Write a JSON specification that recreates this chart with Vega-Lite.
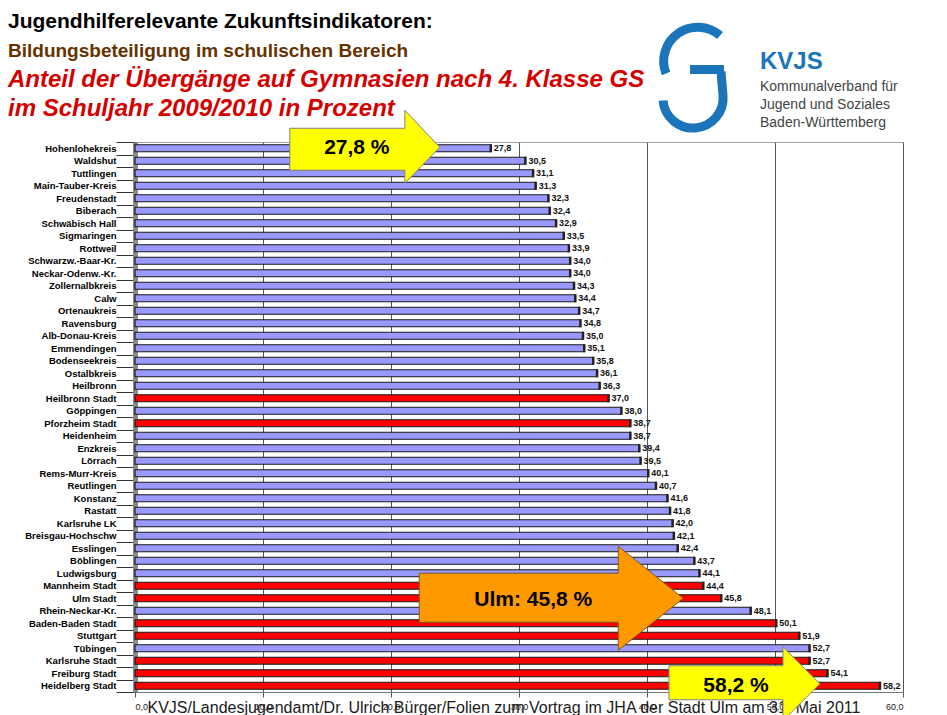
{
  "$schema": "https://vega.github.io/schema/vega-lite/v6.json",
  "background": "white",
  "padding": {"left": 8, "top": 7, "right": 0, "bottom": 0},
  "config": {
    "font": "Liberation Sans",
    "view": {"stroke": null},
    "locale": {"number": {"decimal": ",", "thousands": ".", "grouping": [3], "currency": ["", " €"]}}
  },
  "datasets": {
    "kopf": [
      {"bereich": "Titel", "zeile": "1", "rolle": "ueberschrift", "text": "Jugendhilferelevante Zukunftsindikatoren:"},
      {"bereich": "Titel", "zeile": "2", "rolle": "thema", "text": "Bildungsbeteiligung im schulischen Bereich"},
      {"bereich": "Titel", "zeile": "3", "rolle": "indikator", "text": "Anteil der Übergänge auf Gymnasien nach 4. Klasse GS"},
      {"bereich": "Titel", "zeile": "4", "rolle": "indikator", "text": "im Schuljahr 2009/2010 in Prozent"},
      {"bereich": "Logo", "zeile": "2", "rolle": "marke", "text": "KVJS"},
      {"bereich": "Logo", "zeile": "3", "rolle": "zusatz", "text": "Kommunalverband für\nJugend und Soziales\nBaden-Württemberg"},
      {"bereich": "Logo", "zeile": "3", "rolle": "emblem", "text": ""}
    ],
    "werte": [
      {"kreis": "Hohenlohekreis", "anteil": 27.8, "art": "Landkreis"},
      {"kreis": "Waldshut", "anteil": 30.5, "art": "Landkreis"},
      {"kreis": "Tuttlingen", "anteil": 31.1, "art": "Landkreis"},
      {"kreis": "Main-Tauber-Kreis", "anteil": 31.3, "art": "Landkreis"},
      {"kreis": "Freudenstadt", "anteil": 32.3, "art": "Landkreis"},
      {"kreis": "Biberach", "anteil": 32.4, "art": "Landkreis"},
      {"kreis": "Schwäbisch Hall", "anteil": 32.9, "art": "Landkreis"},
      {"kreis": "Sigmaringen", "anteil": 33.5, "art": "Landkreis"},
      {"kreis": "Rottweil", "anteil": 33.9, "art": "Landkreis"},
      {"kreis": "Schwarzw.-Baar-Kr.", "anteil": 34.0, "art": "Landkreis"},
      {"kreis": "Neckar-Odenw.-Kr.", "anteil": 34.0, "art": "Landkreis"},
      {"kreis": "Zollernalbkreis", "anteil": 34.3, "art": "Landkreis"},
      {"kreis": "Calw", "anteil": 34.4, "art": "Landkreis"},
      {"kreis": "Ortenaukreis", "anteil": 34.7, "art": "Landkreis"},
      {"kreis": "Ravensburg", "anteil": 34.8, "art": "Landkreis"},
      {"kreis": "Alb-Donau-Kreis", "anteil": 35.0, "art": "Landkreis"},
      {"kreis": "Emmendingen", "anteil": 35.1, "art": "Landkreis"},
      {"kreis": "Bodenseekreis", "anteil": 35.8, "art": "Landkreis"},
      {"kreis": "Ostalbkreis", "anteil": 36.1, "art": "Landkreis"},
      {"kreis": "Heilbronn", "anteil": 36.3, "art": "Landkreis"},
      {"kreis": "Heilbronn Stadt", "anteil": 37.0, "art": "Stadtkreis"},
      {"kreis": "Göppingen", "anteil": 38.0, "art": "Landkreis"},
      {"kreis": "Pforzheim Stadt", "anteil": 38.7, "art": "Stadtkreis"},
      {"kreis": "Heidenheim", "anteil": 38.7, "art": "Landkreis"},
      {"kreis": "Enzkreis", "anteil": 39.4, "art": "Landkreis"},
      {"kreis": "Lörrach", "anteil": 39.5, "art": "Landkreis"},
      {"kreis": "Rems-Murr-Kreis", "anteil": 40.1, "art": "Landkreis"},
      {"kreis": "Reutlingen", "anteil": 40.7, "art": "Landkreis"},
      {"kreis": "Konstanz", "anteil": 41.6, "art": "Landkreis"},
      {"kreis": "Rastatt", "anteil": 41.8, "art": "Landkreis"},
      {"kreis": "Karlsruhe LK", "anteil": 42.0, "art": "Landkreis"},
      {"kreis": "Breisgau-Hochschw", "anteil": 42.1, "art": "Landkreis"},
      {"kreis": "Esslingen", "anteil": 42.4, "art": "Landkreis"},
      {"kreis": "Böblingen", "anteil": 43.7, "art": "Landkreis"},
      {"kreis": "Ludwigsburg", "anteil": 44.1, "art": "Landkreis"},
      {"kreis": "Mannheim Stadt", "anteil": 44.4, "art": "Stadtkreis"},
      {"kreis": "Ulm Stadt", "anteil": 45.8, "art": "Stadtkreis"},
      {"kreis": "Rhein-Neckar-Kr.", "anteil": 48.1, "art": "Landkreis"},
      {"kreis": "Baden-Baden Stadt", "anteil": 50.1, "art": "Stadtkreis"},
      {"kreis": "Stuttgart", "anteil": 51.9, "art": "Stadtkreis"},
      {"kreis": "Tübingen", "anteil": 52.7, "art": "Landkreis"},
      {"kreis": "Karlsruhe Stadt", "anteil": 52.7, "art": "Stadtkreis"},
      {"kreis": "Freiburg Stadt", "anteil": 54.1, "art": "Stadtkreis"},
      {"kreis": "Heidelberg Stadt", "anteil": 58.2, "art": "Stadtkreis"}
    ],
    "hinweise": [
      {"kreis": "Hohenlohekreis", "anteil": 27.8, "label": "27,8 %"},
      {"kreis": "Ulm Stadt", "anteil": 45.8, "label": "Ulm: 45,8 %"},
      {"kreis": "Heidelberg Stadt", "anteil": 58.2, "label": "58,2 %"}
    ]
  },
  "bounds": "flush",
  "spacing": 19,
  "vconcat": [
    {
      "width": 768,
      "height": 116,
      "data": {"name": "kopf"},
      "encoding": {
        "x": {"field": "bereich", "type": "nominal", "axis": null, "bandPosition": 0,
              "scale": {"type": "band", "domain": ["Titel", "Logo"], "paddingInner": 0.7712, "paddingOuter": 0}},
        "y": {"field": "zeile", "type": "nominal", "axis": null,
              "scale": {"type": "band", "domain": ["1", "2", "3", "4"], "paddingInner": 0, "paddingOuter": 0}}
      },
      "layer": [
        {
          "transform": [{"filter": "datum.rolle === 'ueberschrift'"}],
          "mark": {"type": "text", "align": "left", "baseline": "middle", "dx": -127, "fontSize": 21, "fontWeight": "bold", "color": "#000000"},
          "encoding": {"text": {"field": "text"}}
        },
        {
          "transform": [{"filter": "datum.rolle === 'thema'"}],
          "mark": {"type": "text", "align": "left", "baseline": "middle", "dx": -127, "fontSize": 19, "fontWeight": "bold", "color": "#663300"},
          "encoding": {"text": {"field": "text"}}
        },
        {
          "transform": [{"filter": "datum.rolle === 'indikator'"}],
          "mark": {"type": "text", "align": "left", "baseline": "middle", "dx": -127, "fontSize": 24, "fontWeight": "bold", "fontStyle": "italic", "color": "#D40000"},
          "encoding": {"text": {"field": "text"}}
        },
        {
          "transform": [{"filter": "datum.rolle === 'emblem'"}],
          "mark": {"type": "point", "shape": "M -40 -44 A 34 34 0 0 0 -94 -6 M -70 -10 L -36 -10 M -39 -8 L -37 16 A 30 30 0 0 1 -97 21", "size": 4, "filled": false, "stroke": "#1B75BB", "strokeWidth": 9, "strokeCap": "butt", "opacity": 1}
        },
        {
          "transform": [{"filter": "datum.rolle === 'marke'"}],
          "mark": {"type": "text", "align": "left", "baseline": "middle", "dy": 11, "fontSize": 24, "fontWeight": "bold", "color": "#1B75BB"},
          "encoding": {"text": {"field": "text"}}
        },
        {
          "transform": [{"filter": "datum.rolle === 'zusatz'"}],
          "mark": {"type": "text", "align": "left", "baseline": "top", "dy": 0, "fontSize": 14, "lineHeight": 18, "lineBreak": "\n", "color": "#444444"},
          "encoding": {"text": {"field": "text"}}
        }
      ]
    },
    {
      "width": 768,
      "height": 550,
      "view": {"stroke": "#a0a0a0", "strokeWidth": 1},
      "encoding": {
        "x": {"field": "anteil", "type": "quantitative",
              "scale": {"domain": [0, 60], "nice": false, "zero": true},
              "axis": {"values": [0, 10, 20, 30, 40, 50, 60], "format": ".1f",
                       "labelFontSize": 9, "labelColor": "#222222", "labelPadding": 5,
                       "tickSize": 5, "tickColor": "#555555", "domainColor": "#777777",
                       "grid": true, "gridColor": "#555555", "gridWidth": 1,
                       "title": "KVJS/Landesjugendamt/Dr. Ulrich Bürger/Folien zum Vortrag im JHA der Stadt Ulm am 31. Mai 2011",
                       "titleFontSize": 16, "titleFontWeight": "normal", "titleColor": "#1a1a1a",
                       "titleX": 12, "titleY": 20, "titleAlign": "left", "titleBaseline": "alphabetic"}},
        "y": {"field": "kreis", "type": "nominal", "sort": null,
              "scale": {"paddingInner": 0, "paddingOuter": 0},
              "axis": {"title": null, "labelFontSize": 9.5, "labelFontWeight": "bold", "labelColor": "#000000",
                       "tickBand": "extent", "tickSize": 19, "tickColor": "#333333", "tickWidth": 1,
                       "domainColor": "#8a8a8a", "domainWidth": 5, "labelPadding": 0, "grid": false}}
      },
      "layer": [
        {
          "data": {"name": "werte"},
          "mark": {"type": "bar", "size": 7, "stroke": "#1a1a1a", "strokeWidth": 1.2},
          "encoding": {
            "color": {"field": "art", "type": "nominal", "legend": null,
                      "scale": {"domain": ["Landkreis", "Stadtkreis"], "range": ["#9999FF", "#FF0000"]}}
          }
        },
        {
          "data": {"name": "werte"},
          "mark": {"type": "tick", "orient": "vertical", "thickness": 2.5, "size": 8, "color": "#222222", "opacity": 1}
        },
        {
          "data": {"name": "werte"},
          "mark": {"type": "text", "align": "left", "baseline": "middle", "dx": 3, "fontSize": 9, "fontWeight": "bold", "color": "#111111"},
          "encoding": {"text": {"field": "anteil", "type": "quantitative", "format": ".1f"}}
        },
        {
          "data": {"name": "hinweise"},
          "transform": [{"filter": "datum.kreis === 'Hohenlohekreis'"}],
          "mark": {"type": "point", "shape": "M -201 -20 L -86 -20 L -86 -38 L -51 -1 L -86 35 L -86 22 L -201 22 Z", "size": 4, "filled": true, "fill": "#FFFF00", "stroke": "#808080", "strokeWidth": 1, "opacity": 1}
        },
        {
          "data": {"name": "hinweise"},
          "transform": [{"filter": "datum.kreis === 'Ulm Stadt'"}],
          "mark": {"type": "point", "shape": "M -302 -25 L -103 -25 L -103 -52 L -38 0 L -103 52 L -103 24 L -302 24 Z", "size": 4, "filled": true, "fill": "#FF9900", "stroke": "#7a5a20", "strokeWidth": 1, "opacity": 1}
        },
        {
          "data": {"name": "hinweise"},
          "transform": [{"filter": "datum.kreis === 'Heidelberg Stadt'"}],
          "mark": {"type": "point", "shape": "M -211 -20 L -97 -20 L -97 -39 L -60 -2 L -97 35 L -97 14 L -211 14 Z", "size": 4, "filled": true, "fill": "#FFFF00", "stroke": "#808080", "strokeWidth": 1, "opacity": 1}
        },
        {
          "data": {"name": "hinweise"},
          "transform": [{"filter": "datum.kreis === 'Hohenlohekreis'"}],
          "mark": {"type": "text", "align": "center", "baseline": "middle", "dx": -134, "dy": 0, "fontSize": 21, "fontWeight": "bold", "color": "#000000"},
          "encoding": {"text": {"field": "label"}}
        },
        {
          "data": {"name": "hinweise"},
          "transform": [{"filter": "datum.kreis === 'Ulm Stadt'"}],
          "mark": {"type": "text", "align": "center", "baseline": "middle", "dx": -188, "dy": 2, "fontSize": 21, "fontWeight": "bold", "color": "#000000"},
          "encoding": {"text": {"field": "label"}}
        },
        {
          "data": {"name": "hinweise"},
          "transform": [{"filter": "datum.kreis === 'Heidelberg Stadt'"}],
          "mark": {"type": "text", "align": "center", "baseline": "middle", "dx": -144, "dy": 0, "fontSize": 21, "fontWeight": "bold", "color": "#000000"},
          "encoding": {"text": {"field": "label"}}
        }
      ]
    }
  ]
}
